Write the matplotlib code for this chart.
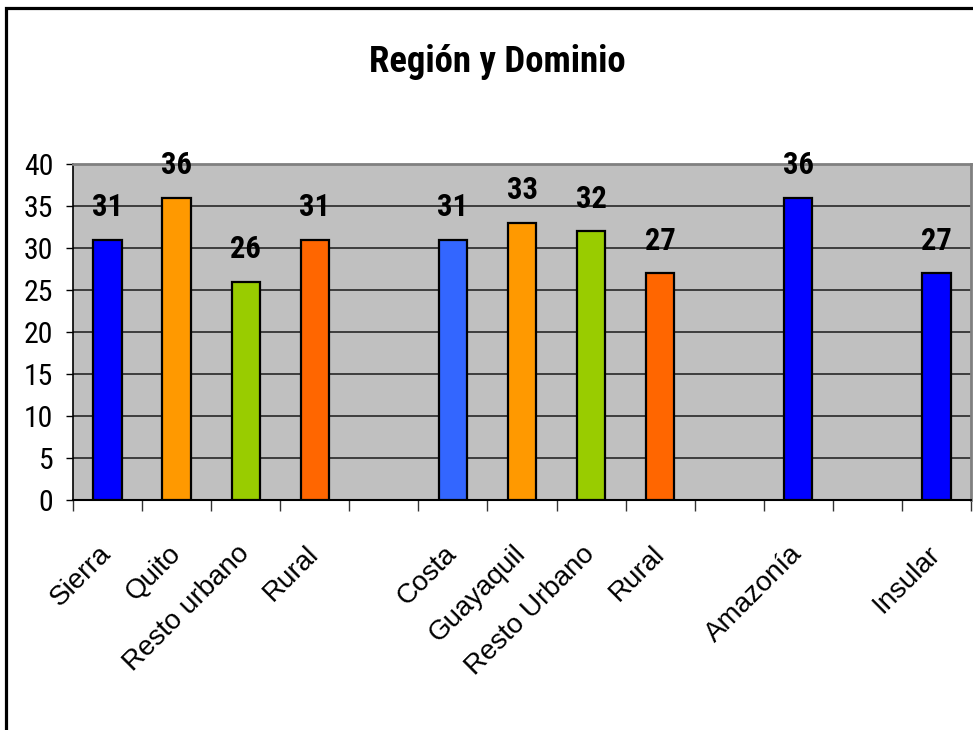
import numpy as np
import matplotlib
matplotlib.use("Agg")
import matplotlib.pyplot as plt
from matplotlib.patches import Rectangle

# Survey results by region and domain (blank slots separate the regions)
categories = ["Sierra", "Quito", "Resto urbano", "Rural", "",
              "Costa", "Guayaquil", "Resto Urbano", "Rural", "",
              "Amazonía", "", "Insular"]
values = [31, 36, 26, 31, None, 31, 33, 32, 27, None, 36, None, 27]
colors = ["#0000FF", "#FF9900", "#99CC00", "#FF6600", None,
          "#3366FF", "#FF9900", "#99CC00", "#FF6600", None,
          "#0000FF", None, "#0000FF"]
y_ticks = [0, 5, 10, 15, 20, 25, 30, 35, 40]
title = "Región y Dominio"

narrow = ["Roboto Condensed", "Liberation Sans", "DejaVu Sans"]
regular = ["Liberation Sans", "DejaVu Sans"]

fig = plt.figure(figsize=(9.73, 7.30), dpi=100)
fig.patch.set_facecolor("white")
ax = fig.add_axes([73 / 973, 1 - 500 / 730, (971 - 73) / 973, (500 - 164) / 730])
ax.set_facecolor("#C0C0C0")

x_idx = np.arange(len(categories))
bar_x = [i for i, v in zip(x_idx, values) if v is not None]
bar_v = [v for v in values if v is not None]
bar_c = [c for c, v in zip(colors, values) if v is not None]

ax.set_axisbelow(True)
ax.yaxis.grid(True, color="#1a1a1a", linewidth=1.1)
ax.bar(bar_x, bar_v, width=0.41, color=bar_c, edgecolor="black",
       linewidth=1.6, zorder=3)

for xb, v in zip(bar_x, bar_v):
    ax.annotate(f"{v}", xy=(xb, v), xytext=(0, 17), textcoords="offset points",
                ha="center", va="baseline", fontsize=22, fontweight="bold",
                family=narrow, color="black", zorder=4)

ax.set_xlim(-0.5, len(categories) - 0.5)
ax.set_ylim(0, 40)
ax.set_yticks(y_ticks)
ax.set_yticklabels([str(t) for t in y_ticks], family=narrow, fontsize=21.5)
ax.tick_params(axis="y", length=5, width=1, direction="out", pad=9)

# boundary ticks between categories, labels at category centres
ax.set_xticks(np.arange(-0.5, len(categories), 1.0))
ax.set_xticklabels([])
ax.tick_params(axis="x", which="major", length=8, width=1, color="#333333")
ax.set_xticks(x_idx, minor=True)
ax.set_xticklabels(categories, minor=True, rotation=45, ha="right",
                   va="center", rotation_mode="anchor", family=regular,
                   fontsize=20)
ax.tick_params(axis="x", which="minor", length=0, pad=36)

for side in ("top", "right"):
    ax.spines[side].set_color("#808080")
    ax.spines[side].set_linewidth(2)
ax.spines["left"].set_color("black")
ax.spines["bottom"].set_color("black")
ax.spines["left"].set_linewidth(1.2)
ax.spines["bottom"].set_linewidth(1.5)

fig.text(497 / 973, 1 - 62 / 730, title, ha="center", va="center",
         fontsize=26.5, fontweight="bold", family=narrow)

# outer chart frame (open at right and bottom edges)
fig.patches.append(Rectangle((6 / 973, -0.05), 1.2, 1 - 8 / 730 + 0.05,
                             transform=fig.transFigure, fill=False,
                             edgecolor="black", linewidth=2.3, zorder=10))

fig.savefig("out.png", dpi=100, facecolor="white")
